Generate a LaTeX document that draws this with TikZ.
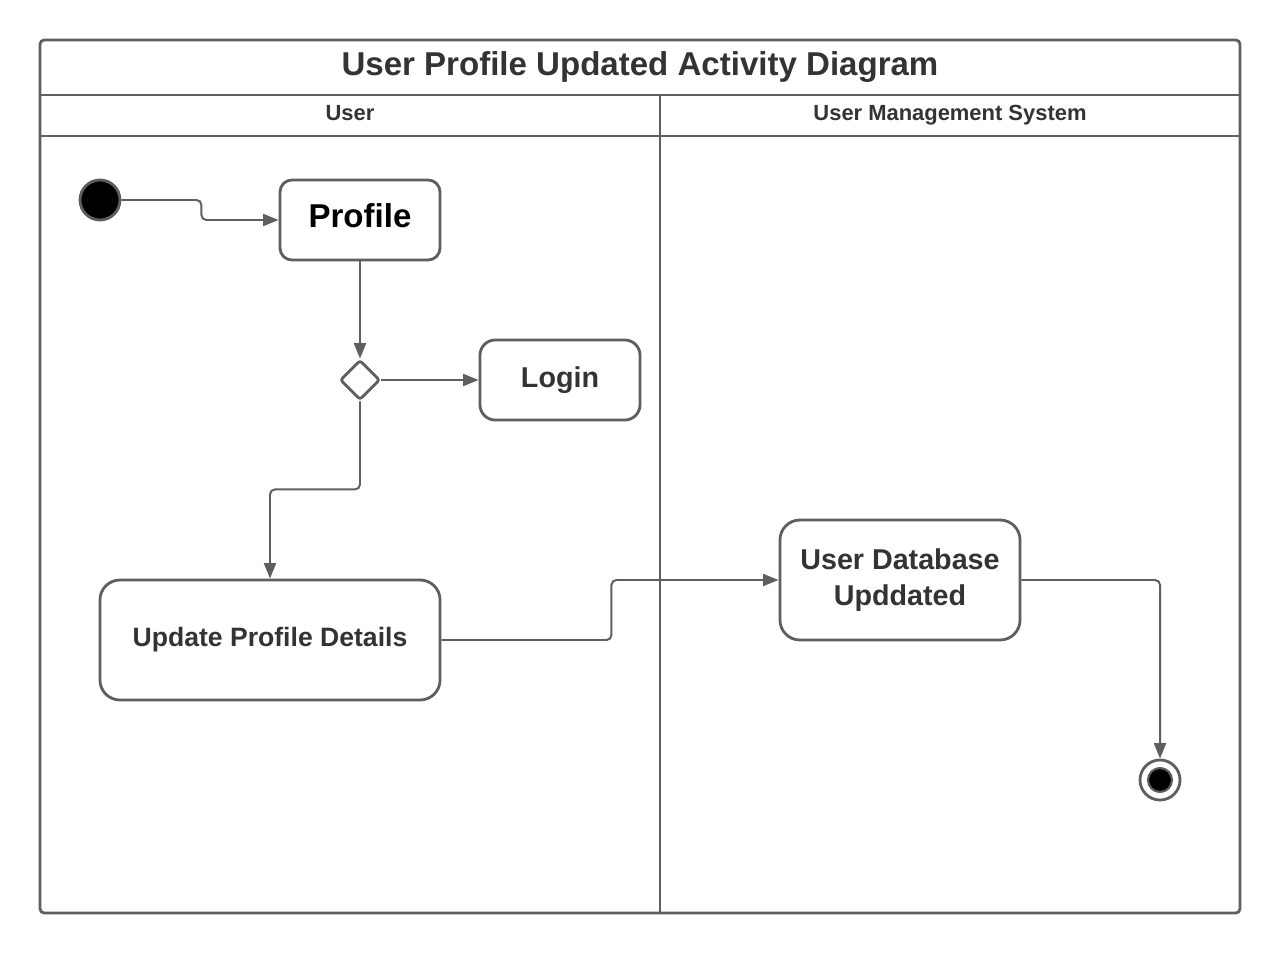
\documentclass[tikz,border=0pt]{standalone}
\usepackage{fontspec}
\setmainfont{Liberation Sans}
\usetikzlibrary{arrows.meta,shapes.geometric}
\definecolor{linegray}{HTML}{5E5E5E}
\definecolor{textgray}{HTML}{333333}
\begin{document}
\begin{tikzpicture}[x=0.025cm,y=-0.025cm,
	frame/.style={draw=linegray,line width=2pt},
	activity/.style={draw=linegray,line width=2pt,rounded corners=0.3cm,inner sep=0pt,font=\bfseries,text=textgray,align=center},
	flow/.style={draw=linegray,line width=1.4pt,rounded corners=3.5pt,-{Triangle[length=11pt,width=8.5pt]}}]
		\useasboundingbox (0,0) rectangle (1280,953);
		\draw[frame,rounded corners=3pt] (40,40) rectangle (1240,913);
		\draw[frame] (40,95) -- (1240,95);
		\draw[frame] (40,136) -- (1240,136);
		\draw[frame] (660,95) -- (660,913);
		\node[anchor=base,text=textgray,font=\bfseries\fontsize{23.5}{28}\selectfont] (title) at (640,75) {User Profile Updated Activity Diagram};
		\node[anchor=base,text=textgray,font=\bfseries\fontsize{15.6}{19}\selectfont] (userlane) at (350,120) {User};
		\node[anchor=base,text=textgray,font=\bfseries\fontsize{15.6}{19}\selectfont] (systemlane) at (950,120) {User Management System};
		\node[circle,fill=black,draw=linegray,line width=2pt,minimum size=1cm,inner sep=0pt] (start) at (100,200) {};
		\node[activity,text=black,text depth=7pt,minimum width=4cm,minimum height=2cm,font=\bfseries\fontsize{23.5}{28}\selectfont] (profile) at (360,220) {Profile};
		\node[diamond,aspect=1,draw=linegray,line width=2pt,rounded corners=2pt,minimum size=1cm,inner sep=0pt] (decision) at (360,380) {};
		\node[activity,rounded corners=0.38cm,minimum width=4cm,minimum height=2cm,font=\bfseries\fontsize{20.4}{25}\selectfont] (login) at (560,380) {Login};
		\node[activity,rounded corners=0.5cm,minimum width=8.5cm,minimum height=3cm,font=\bfseries\fontsize{18.9}{23}\selectfont] (update) at (270,640) {Update Profile Details};
		\node[activity,rounded corners=0.5cm,minimum width=6cm,minimum height=3cm,font=\bfseries\fontsize{20.4}{25}\selectfont] (database) at (900,580) {User Database\\Upddated};
		\node[circle,draw=linegray,line width=2pt,minimum size=1cm,inner sep=0pt] (final) at (1160,780) {};
		\node[circle,fill=black,draw=linegray,line width=1.5pt,minimum size=0.6cm,inner sep=0pt] (finaldot) at (final) {};
		\draw[flow] (start.east) -- ++(80,0) |- (profile.west);
		\draw[flow] (profile.south) -- (decision.north);
		\draw[flow] (decision.east) -- (login.west);
		\draw[flow] (decision.south) -- ++(0,88) -| (update.north);
		\draw[flow] (update.east) -- ++(170,0) |- (database.west);
		\draw[flow] (database.east) -| (final.north);
	\end{tikzpicture}
\end{document}
